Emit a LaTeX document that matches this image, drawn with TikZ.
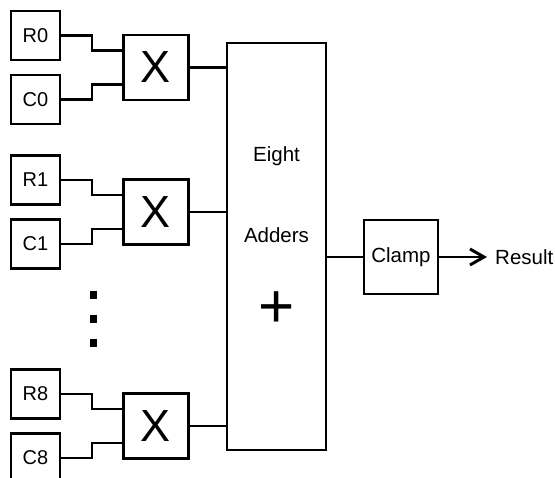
\documentclass[tikz,border=0pt]{standalone}
\usepackage{fontspec}
\setmainfont{Liberation Sans}
\usetikzlibrary{positioning,arrows.meta,calc}

\begin{document}
\begin{tikzpicture}[x=1pt, y=-1pt,
    inbox/.style={draw, line width=2.4pt, minimum width=49pt, minimum height=49pt,
                  inner sep=0pt, font=\fontsize{20}{24}\selectfont},
    mulbox/.style={draw, line width=2.4pt, minimum width=65pt, minimum height=65pt,
                   inner sep=0pt, font=\fontsize{45}{50}\selectfont},
    lbl/.style={inner sep=0pt, font=\fontsize{20.5}{24}\selectfont},
    wire/.style={line width=2.4pt},
    arr/.style={-{Straight Barb[length=14pt, width=16pt, line width=3pt]}, line width=2.4pt}]
  \useasboundingbox (0,0) rectangle (555,478);
  % adder block
  \node[draw, line width=2.2pt, minimum width=99pt, minimum height=407pt] (add) at (276.5,246.5) {};
  \node[lbl] (eight) at (276.5,156) {Eight};
  \node[lbl] (adders) at (276.5,235.5) {Adders};
  \node[inner sep=0pt, font=\fontsize{62}{70}\selectfont] (plus) at (277,310) {+};
  % multiplier rows
  \foreach \i/\y in {0/35.5, 1/180, 8/394} {
    \node[inbox] (R\i) at (35.5,\y) {R\i};
    \node[inbox, below=12.6pt of R\i] (C\i) {C\i};
    \node[mulbox] (X\i) at (156,\y+32) {X};
    \draw[wire] (R\i.east) -- ++(31,0) |- ($(X\i.north west)!.25!(X\i.south west)$);
    \draw[wire] (C\i.east) -- ++(31,0) |- ($(X\i.north west)!.75!(X\i.south west)$);
    \draw[wire] (X\i.east) -- (X\i.east -| add.west);
  }
  \foreach \d/\n in {295/a, 319.5/b, 343.5/c}
    \node[fill, minimum width=7pt, minimum height=8pt, inner sep=0pt] (dot\n) at (93,\d) {};
  % output
  \node[draw, line width=2.4pt, minimum width=74pt, minimum height=74pt, lbl] (clamp) at (401,257) {Clamp};
  \node[lbl, anchor=west] (res) at (495,257) {Result};
  \draw[wire] (add.east |- clamp.west) -- (clamp.west);
  \draw[arr, shorten >=8pt] (clamp.east) -- (res.west);
\end{tikzpicture}
\end{document}
